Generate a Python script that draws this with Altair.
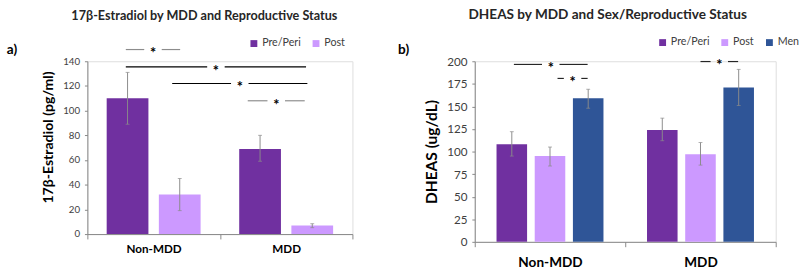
import altair as alt
import pandas as pd

FONT = "Lato"

categories = ["Non-MDD", "MDD"]

# Panel a) 17beta-Estradiol
e2_groups = ["Pre/Peri", "Post"]
e2_category = ["Non-MDD", "Non-MDD", "MDD", "MDD"]
e2_group = ["Pre/Peri", "Post", "Pre/Peri", "Post"]
e2_mean = [110, 32, 69, 7]
e2_low = [89, 19, 59, 5.2]
e2_high = [131, 45, 80, 8.4]

# Panel b) DHEAS
dheas_groups = ["Pre/Peri", "Post", "Men"]
dheas_category = ["Non-MDD", "Non-MDD", "Non-MDD", "MDD", "MDD", "MDD"]
dheas_group = ["Pre/Peri", "Post", "Men", "Pre/Peri", "Post", "Men"]
dheas_mean = [108, 95, 159, 124, 97, 171]
dheas_low = [95, 84, 148, 112, 85, 151]
dheas_high = [122, 105, 169, 137, 110, 191]

group_colors = ["#7030A0", "#CC99FF", "#2F5597"]

# significance brackets (x in category units: 0-1 Non-MDD, 1-2 MDD)
e2_sig_start = [0.29, 0.29, 0.64, 1.21]
e2_sig_end = [0.70, 1.65, 1.66, 1.64]
e2_sig_level = [149.5, 135.5, 122, 108]
e2_sig_color = ["#8c8c8c", "#000000", "#000000", "#8c8c8c"]

dheas_sig_start = [0.26, 0.55, 1.50]
dheas_sig_end = [0.75, 0.75, 1.75]
dheas_sig_level = [196.5, 181, 199.7]
dheas_sig_color = ["#262626", "#262626", "#262626"]


def panel(label, title, title_size, title_dx, title_offset, cats, grp_col,
          grps, mean, low, high, colors, y_title, y_max, y_step, sig_s,
          sig_e, sig_l, sig_c, gap, w, h, pad_outer, x_label_size,
          x_label_pad, y_label_size, y_title_size, y_title_pad, y_title_y,
          legend_x, legend_y, label_x, label_y):
    # grouped-bar layout inside each category band (band = 1 unit)
    n = len(grps)
    pad_inner = 0.2
    step = 1.0 / (n - pad_inner + 2 * pad_outer)
    bw = step * (1 - pad_inner)
    ci = [categories.index(c) for c in cats]
    gi = [grps.index(g) for g in grp_col]
    x0 = [c + pad_outer * step + g * step for c, g in zip(ci, gi)]
    df = pd.DataFrame({"category": cats, "group": grp_col,
                       "mean": mean, "low": low, "high": high,
                       "x0": x0, "x1": [v + bw for v in x0],
                       "xc": [v + bw / 2 for v in x0]})

    yscale = alt.Scale(domain=[0, y_max], nice=False)
    axis_kw = dict(values=list(range(0, y_max + 1, y_step)), grid=False,
                   domainColor="#868686", tickColor="#868686", tickSize=3,
                   labelPadding=5, labelFontSize=y_label_size,
                   labelColor="#404040", labelFont=FONT,
                   title=y_title, titleFontSize=y_title_size,
                   titleFontWeight="bold", titleColor="#000000",
                   titleFont=FONT, titlePadding=y_title_pad)
    if y_title_y is not None:
        axis_kw["titleY"] = y_title_y
    yaxis = alt.Axis(**axis_kw)

    def Y(field):
        return alt.Y(f"{field}:Q", scale=yscale, axis=yaxis)

    xq = alt.Scale(domain=[0, 2], nice=False, zero=False)

    # category axis (band scale, ticks at band edges)
    axis_layer = alt.Chart(pd.DataFrame({"category": categories})).mark_rule(
        opacity=0).encode(
        x=alt.X("category:N", sort=categories,
                scale=alt.Scale(paddingInner=0, paddingOuter=0),
                axis=alt.Axis(title=None, labelAngle=0, tickBand="extent",
                              domainColor="#868686", tickColor="#868686",
                              tickSize=5, labelPadding=x_label_pad,
                              labelFontSize=x_label_size,
                              labelFontWeight="bold",
                              labelColor="#000000", labelFont=FONT)))

    base = alt.Chart(df)
    bars = base.mark_bar().encode(
        x=alt.X("x0:Q", scale=xq, axis=None), x2="x1:Q",
        y=Y("mean"), y2=alt.datum(0),
        color=alt.Color("group:N", sort=grps,
                        scale=alt.Scale(domain=grps, range=colors),
                        legend=alt.Legend(title=None, orient="none",
                                          direction="horizontal",
                                          legendX=legend_x, legendY=legend_y,
                                          symbolType="square", symbolSize=50,
                                          symbolStrokeWidth=0,
                                          symbolOpacity=1,
                                          labelFontSize=11, labelFont=FONT,
                                          labelColor="#404040",
                                          labelOffset=3, columnPadding=10,
                                          padding=0)),
    )
    err = base.mark_rule(color="#8a8a8a", strokeWidth=1).encode(
        x=alt.X("xc:Q", scale=xq, axis=None), y=Y("low"), y2="high")
    cap_hi = base.mark_tick(color="#8a8a8a", size=4, thickness=1,
                            orient="horizontal").encode(
        x=alt.X("xc:Q", scale=xq, axis=None), y=Y("high"))
    cap_lo = base.mark_tick(color="#8a8a8a", size=4, thickness=1,
                            orient="horizontal").encode(
        x=alt.X("xc:Q", scale=xq, axis=None), y=Y("low"))

    seg_rows = []
    star_rows = []
    for s, e, l, c in zip(sig_s, sig_e, sig_l, sig_c):
        m = (s + e) / 2
        seg_rows.append({"s": s, "e": m - gap, "lvl": l, "col": c})
        seg_rows.append({"s": m + gap, "e": e, "lvl": l, "col": c})
        star_rows.append({"m": m, "lvl": l})
    segs = alt.Chart(pd.DataFrame(seg_rows)).mark_rule(strokeWidth=1.2).encode(
        x=alt.X("s:Q", scale=xq, axis=None), x2="e:Q", y=Y("lvl"),
        color=alt.Color("col:N", scale=None))
    stars = alt.Chart(pd.DataFrame(star_rows)).mark_text(
        text="*", fontSize=15, fontWeight="bold", font=FONT,
        color="#000000", baseline="middle", dy=4).encode(
        x=alt.X("m:Q", scale=xq, axis=None), y=Y("lvl"))
    lab = alt.Chart(pd.DataFrame({"t": [label]})).mark_text(
        fontSize=14, fontWeight="bold", font=FONT, color="#000000",
        align="left", baseline="middle").encode(
        text="t:N", x=alt.value(label_x), y=alt.value(label_y))

    data_layers = alt.layer(bars, err, cap_hi, cap_lo, segs, stars, lab)

    return alt.layer(axis_layer, data_layers).resolve_scale(
        x="independent").properties(
        width=w, height=h,
        title=alt.TitleParams(text=title, fontSize=title_size,
                              fontWeight="bold", font=FONT, color="#262626",
                              anchor="middle", frame="group", dx=title_dx,
                              offset=title_offset))


left = panel("a)", "17β-Estradiol  by MDD and Reproductive Status", 13, -16,
             16, e2_category, e2_group, e2_groups, e2_mean, e2_low, e2_high,
             group_colors[:2], "17β-Estradiol (pg/ml)", 140, 20,
             e2_sig_start, e2_sig_end, e2_sig_level, e2_sig_color, 0.066,
             273, 178, 0.37, 12, 5, 10, 14.5, 7, 78, 166, -24, -83, -12)

right = panel("b)", "DHEAS by MDD and Sex/Reproductive Status", 14, -18, 16,
              dheas_category, dheas_group, dheas_groups, dheas_mean,
              dheas_low, dheas_high, group_colors, "DHEAS (ug/dL)", 200, 25,
              dheas_sig_start, dheas_sig_end, dheas_sig_level,
              dheas_sig_color, 0.058,
              310, 186, 0.57, 14, 9, 12, 16, 8, None, 188, -25, -79, -12)

chart = alt.hconcat(left, right, spacing=45).resolve_scale(
    color="independent").properties(
    padding={"left": 6, "top": 3, "right": 0, "bottom": 0}
).configure_view(stroke=None).configure(font=FONT, background="white")

chart.save("out.html", embed_options={"renderer": "svg", "actions": False})
